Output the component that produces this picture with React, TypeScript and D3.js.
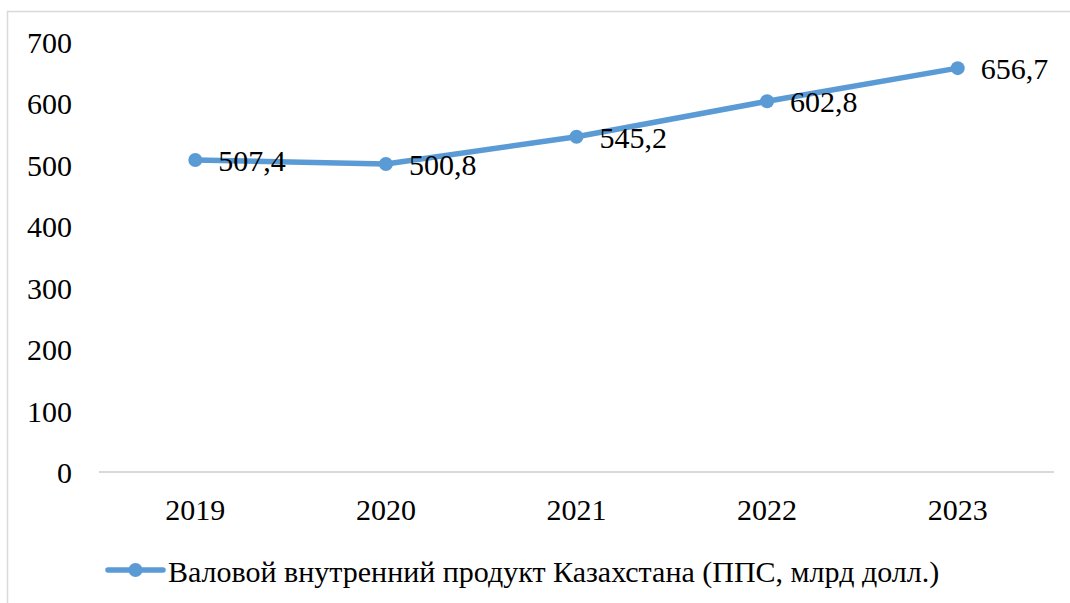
import React, { useEffect, useRef } from 'react';
import * as d3 from 'd3';

const years = ['2019', '2020', '2021', '2022', '2023'];
const gdp = [507.4, 500.8, 545.2, 602.8, 656.7];
const yTicks = [0, 100, 200, 300, 400, 500, 600, 700];
const seriesName = 'Валовой внутренний продукт Казахстана (ППС, млрд долл.)';

const App = () => {
    const ref = useRef<SVGSVGElement>(null);

    useEffect(() => {
        const svg = d3.select(ref.current);
        svg.selectAll('*').remove();

        const width = 1070;
        const height = 603;
        const blue = '#5b9bd5';

        // outer chart border (runs off the right and bottom edge)
        svg.append('rect')
            .attr('x', 7.5).attr('y', 11.5)
            .attr('width', width + 20).attr('height', height + 20)
            .attr('fill', 'white')
            .attr('stroke', '#d9d9d9')
            .attr('stroke-width', 1.5);

        const x = d3.scaleBand()
            .domain(years)
            .range([100, 1053]);

        const y = d3.scaleLinear()
            .domain([0, 700])
            .range([472, 41.5]);

        // baseline
        svg.append('line')
            .attr('x1', 99).attr('x2', 1054)
            .attr('y1', y(0)).attr('y2', y(0))
            .attr('stroke', '#d9d9d9')
            .attr('stroke-width', 2);

        // y labels
        svg.append('g')
            .selectAll('text')
            .data(yTicks)
            .enter().append('text')
            .attr('x', 72)
            .attr('y', d => y(d) + 11)
            .attr('text-anchor', 'end')
            .text(d => d);

        // x labels
        svg.append('g')
            .selectAll('text')
            .data(years)
            .enter().append('text')
            .attr('x', d => x(d)! + x.bandwidth() / 2)
            .attr('y', 520)
            .attr('text-anchor', 'middle')
            .text(d => d);

        const pts = years.map((d, i) => ({ year: d, value: gdp[i] }));
        const cx = (d: { year: string }) => x(d.year)! + x.bandwidth() / 2;

        const line = d3.line<{ year: string; value: number }>()
            .x(cx)
            .y(d => y(d.value));

        svg.append('path')
            .datum(pts)
            .attr('d', line)
            .attr('fill', 'none')
            .attr('stroke', blue)
            .attr('stroke-width', 5.5)
            .attr('stroke-linejoin', 'round');

        svg.append('g')
            .selectAll('circle')
            .data(pts)
            .enter().append('circle')
            .attr('cx', cx)
            .attr('cy', d => y(d.value))
            .attr('r', 7)
            .attr('fill', blue);

        // data labels
        svg.append('g')
            .selectAll('text')
            .data(pts)
            .enter().append('text')
            .attr('x', d => cx(d) + 23)
            .attr('y', d => y(d.value) + 11)
            .text(d => d3.format('.1f')(d.value).replace('.', ','));

        // legend
        const legend = svg.append('g');
        legend.append('line')
            .attr('x1', 108).attr('x2', 163)
            .attr('y1', 570).attr('y2', 570)
            .attr('stroke', blue)
            .attr('stroke-width', 5.5)
            .attr('stroke-linecap', 'round');
        legend.append('circle')
            .attr('cx', 135.5).attr('cy', 570)
            .attr('r', 7)
            .attr('fill', blue);
        legend.append('text')
            .attr('x', 168)
            .attr('y', 582)
            .text(seriesName);
    });

    return (
        <svg ref={ref} width="1070" height="603"
            fontFamily="'Times New Roman', Times, 'Liberation Serif', 'Noto Serif', serif" fontSize="30"
            style={{ position: 'absolute', left: 0, top: 0 }}></svg>
    );
};

export default App;
